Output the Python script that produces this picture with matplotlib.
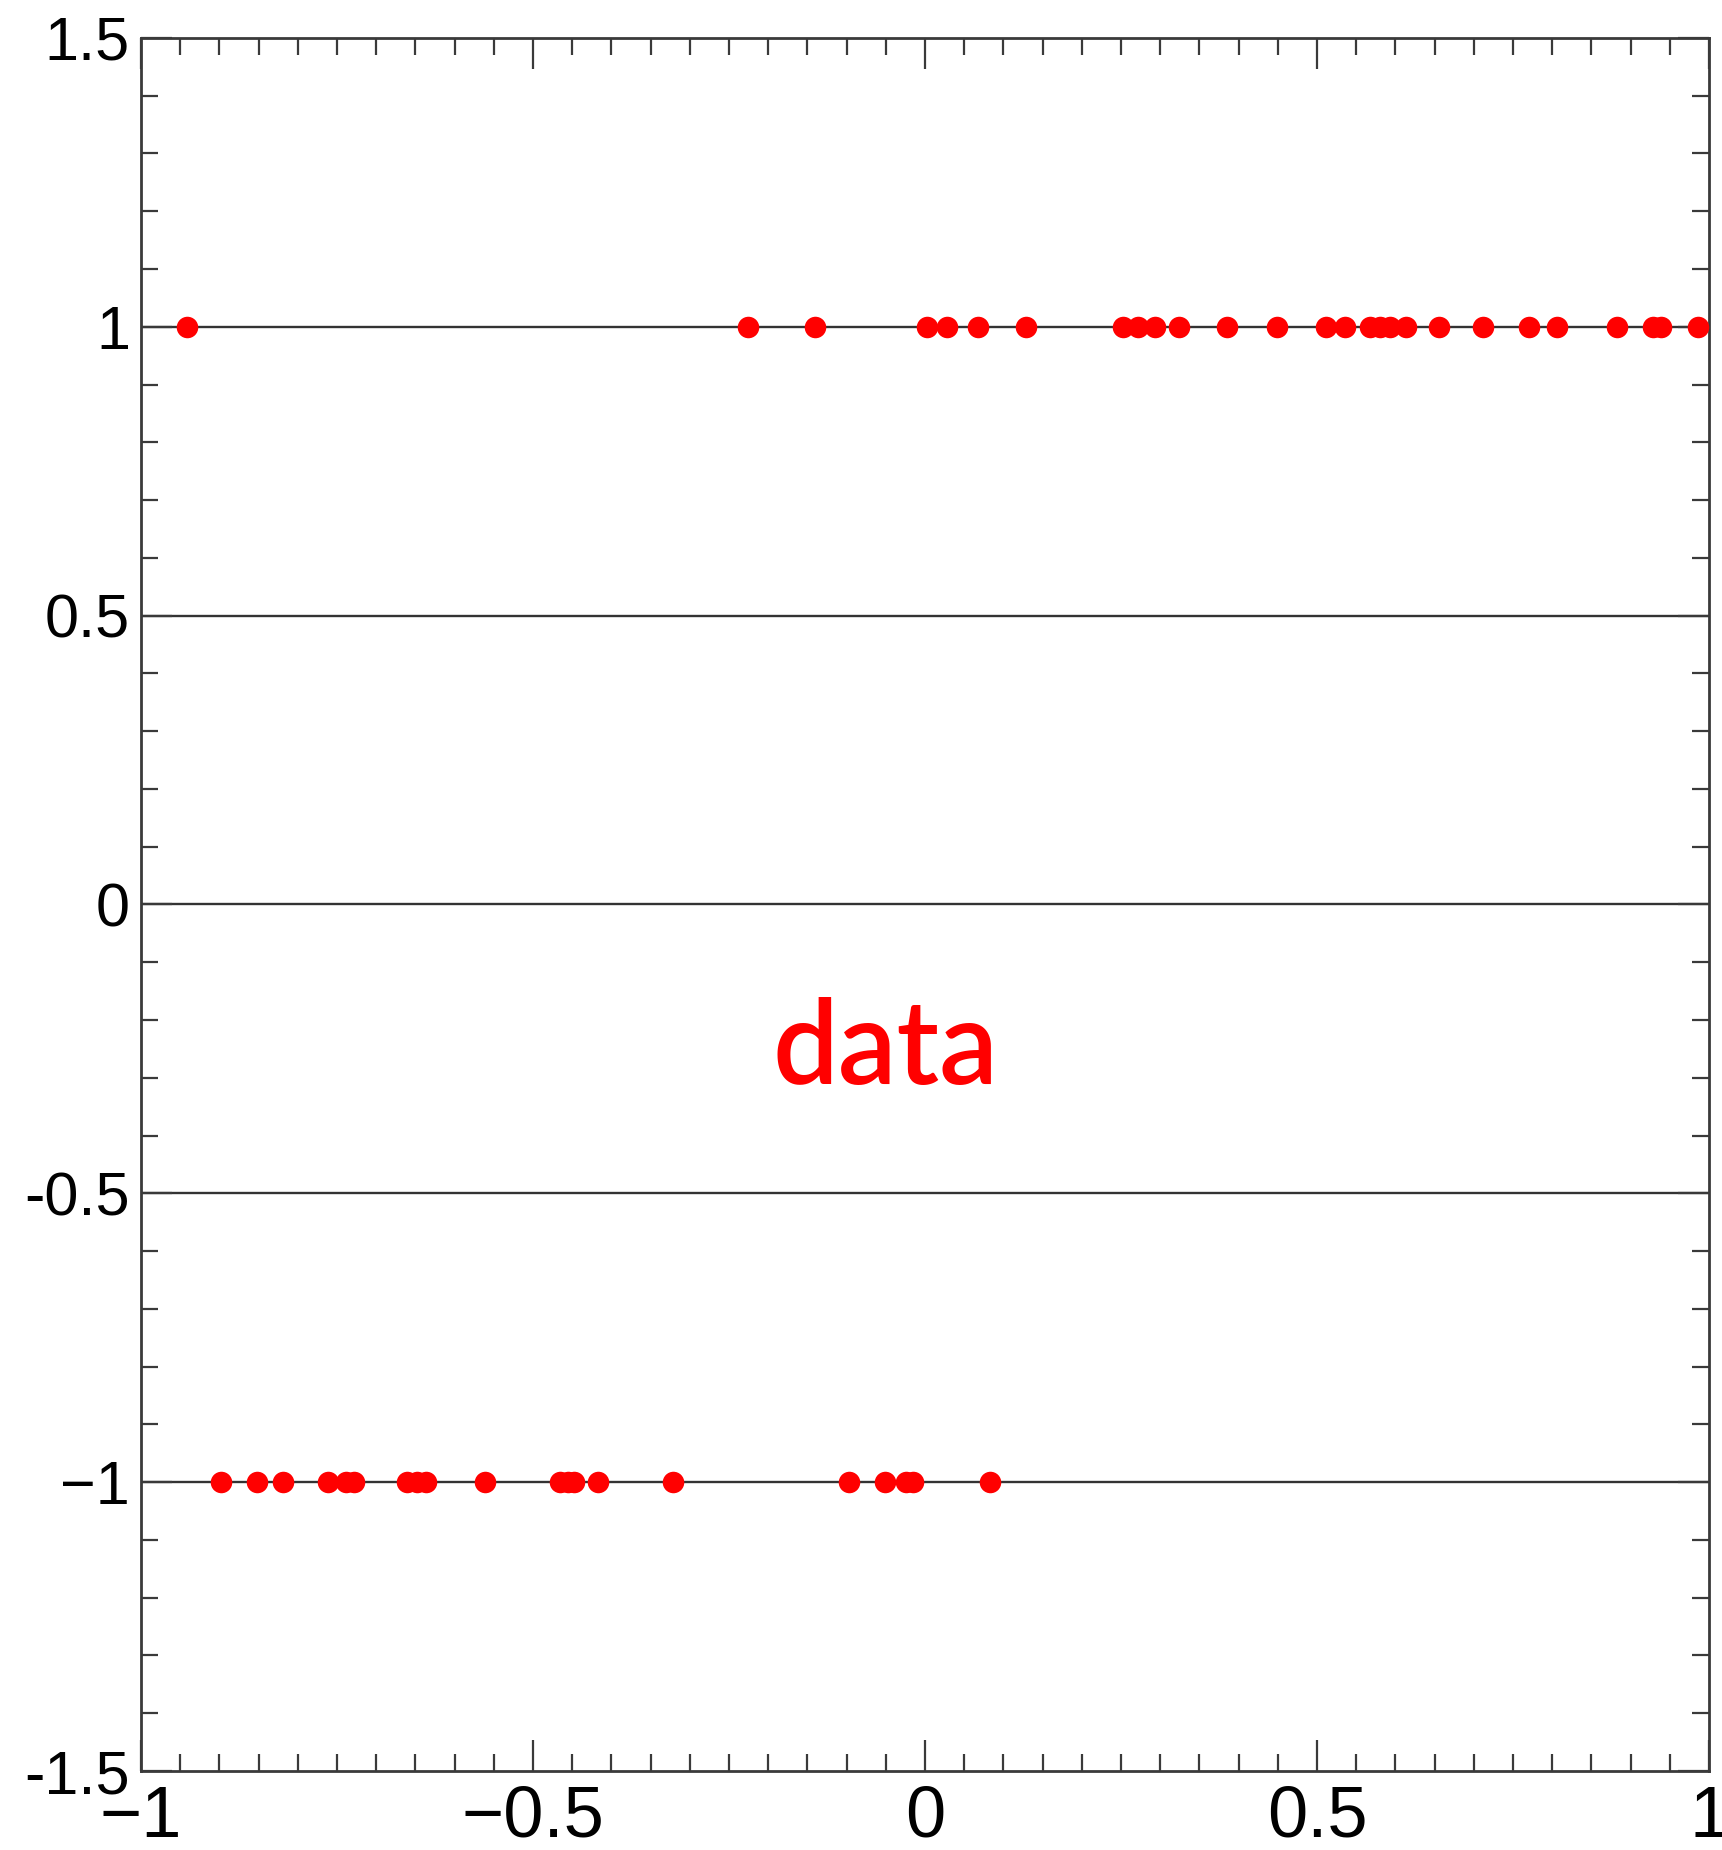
import numpy as np
import matplotlib.pyplot as plt
from matplotlib.ticker import MultipleLocator

# points sitting on the y = 1 line
x_top = [-0.941, -0.226, -0.140, 0.003, 0.028, 0.067, 0.129, 0.253, 0.272,
         0.293, 0.324, 0.385, 0.449, 0.512, 0.535, 0.567, 0.580, 0.593,
         0.614, 0.656, 0.711, 0.770, 0.806, 0.882, 0.929, 0.939, 0.986]
# points sitting on the y = -1 line
x_bot = [-0.898, -0.852, -0.819, -0.762, -0.738, -0.729, -0.661, -0.648,
         -0.636, -0.561, -0.465, -0.456, -0.448, -0.417, -0.322, -0.097,
         -0.051, -0.024, -0.016, 0.083]

h_lines = [1, 0.5, 0, -0.5, -1]
x_ticks = [-1, -0.5, 0, 0.5, 1]
x_labels = ["\u22121", "\u22120.5", "0", "0.5", "1"]
y_ticks = [1.5, 1, 0.5, 0, -0.5, -1, -1.5]
y_labels = ["1.5", "1", "0.5", "0", "-0.5", "\u22121", "-1.5"]

plt.rcParams['font.family'] = ['Liberation Sans', 'DejaVu Sans']

fig = plt.figure(figsize=(17.22, 18.5), dpi=100)
ax = fig.add_axes([0.0819, 0.0427, 0.9106, 0.9368])

for h in h_lines:
    ax.axhline(h, color='#333333', lw=1.7, zorder=1)

ax.plot(x_top, np.ones(len(x_top)), 'o', color='red', ms=15.5, mec='none',
        zorder=3, clip_on=False)
ax.plot(x_bot, -np.ones(len(x_bot)), 'o', color='red', ms=15.5, mec='none',
        zorder=3, clip_on=False)

ax.text(-0.05, -0.31, "data", color='red', fontsize=84, fontweight='semibold',
        family=['Lato', 'DejaVu Sans'], ha='center', va='baseline')

ax.set_xlim(-1, 1)
ax.set_ylim(-1.5, 1.5)

ax.set_xticks(x_ticks)
ax.set_xticklabels(x_labels, fontsize=52)
ax.set_yticks(y_ticks)
ax.set_yticklabels(y_labels, fontsize=44)
ax.xaxis.set_minor_locator(MultipleLocator(0.05))
ax.yaxis.set_minor_locator(MultipleLocator(0.1))

ax.tick_params(which='both', direction='in', top=True, right=True,
               color='#3a3a3a', width=1.6)
ax.tick_params(which='major', length=22)
ax.tick_params(which='minor', length=12)
ax.tick_params(axis='x', pad=10)
ax.tick_params(axis='y', pad=8)

for s in ax.spines.values():
    s.set_color('#3a3a3a')
    s.set_linewidth(2)

fig.savefig('out.png', dpi=100)
